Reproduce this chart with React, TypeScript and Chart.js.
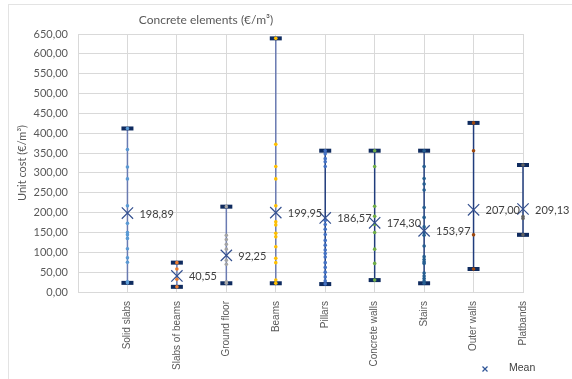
import React, { useEffect, useRef } from "react";
import { Chart, registerables } from "chart.js";

Chart.register(...registerables);

const title = "Concrete elements (€/m³)";
const yAxisTitle = "Unit cost (€/m³)";
const legendLabel = "Mean";

const categories = [
  "Solid slabs",
  "Slabs of beams",
  "Ground floor",
  "Beams",
  "Pillars",
  "Concrete walls",
  "Stairs",
  "Outer walls",
  "Platbands",
];

const minValues = [23, 13, 22, 22, 20, 30, 22, 58, 144];
const maxValues = [412, 74, 215, 639, 356, 356, 356, 426, 320];
const meanValues = [198.89, 40.55, 92.25, 199.95, 186.57, 174.3, 153.97, 207.0, 209.13];

const solidSlabs = [412, 359, 315, 285, 217, 173, 150, 144, 135, 109, 86, 75, 26, 23];
const slabsOfBeams = [74, 58, 32, 13];
const groundFloor = [215, 143, 132, 120, 108, 80, 70, 26, 22];
const beams = [639, 372, 316, 285, 217, 177, 169, 148, 139, 114, 85, 74, 30, 22];
const pillars = [356, 348, 336, 328, 316, 180, 170, 158, 145, 130, 118, 106, 97, 88, 74, 62, 50, 38, 28, 20];
const concreteWalls = [356, 316, 216, 191, 170, 150, 108, 72, 30];
const stairs = [356, 316, 286, 272, 257, 213, 188, 164, 150, 143, 116, 89, 82, 76, 72, 48, 40, 34, 28, 22];
const outerWalls = [426, 356, 144, 58];
const platbands = [320, 190, 185, 144];

const pointSeries = [solidSlabs, slabsOfBeams, groundFloor, beams, pillars, concreteWalls, stairs, outerWalls, platbands];
const pointColors = ["#5B9BD5", "#ED7D31", "#A5A5A5", "#FFC000", "#4472C4", "#70AD47", "#255E91", "#9E480E", "#636363"];
const whiskerColors = ["#6A7BB2", "#6A7BB2", "#6A7BB2", "#6A7BB2", "#203C7C", "#203C7C", "#203C7C", "#203C7C", "#203C7C"];

const yTickMin = 0;
const yTickMax = 650;
const yTickStep = 50;

const fmt = (v: number) => v.toFixed(2).replace(".", ",");

export default function App() {
  const canvasRef = useRef<HTMLCanvasElement | null>(null);

  useEffect(() => {
    const canvas = canvasRef.current;
    if (!canvas) return;

    const datasets: any[] = [];

    categories.forEach((_, i) => {
      datasets.push({
        label: "range-" + i,
        data: [
          { x: i + 1, y: minValues[i] },
          { x: i + 1, y: maxValues[i] },
        ],
        showLine: true,
        borderColor: whiskerColors[i],
        borderWidth: 1.5,
        pointRadius: 0,
        clip: false,
        order: 4,
      });
    });

    datasets.push({
      label: "caps",
      data: categories.flatMap((_, i) => [
        { x: i + 1, y: minValues[i] },
        { x: i + 1, y: maxValues[i] },
      ]),
      pointStyle: "line",
      pointRadius: 6,
      pointBorderWidth: 4,
      borderColor: "#0F2B5F",
      backgroundColor: "#0F2B5F",
      showLine: false,
      clip: false,
      order: 3,
    });

    pointSeries.forEach((arr, i) => {
      datasets.push({
        label: "points-" + i,
        data: arr.map((v) => ({ x: i + 1, y: v })),
        pointStyle: "circle",
        pointRadius: 1.8,
        pointBorderWidth: 0,
        backgroundColor: pointColors[i],
        borderColor: pointColors[i],
        showLine: false,
        clip: false,
        order: 2,
      });
    });

    datasets.push({
      label: legendLabel,
      data: meanValues.map((v, i) => ({ x: i + 1, y: v })),
      pointStyle: "crossRot",
      pointRadius: 8,
      pointBorderWidth: 1.2,
      borderColor: "#34508F",
      backgroundColor: "#34508F",
      showLine: false,
      clip: false,
      order: 1,
    });

    const meanIndex = datasets.length - 1;

    const overlayPlugin = {
      id: "overlay",
      afterDatasetsDraw(chart: any) {
        const ctx = chart.ctx;
        ctx.save();
        const meta = chart.getDatasetMeta(meanIndex);
        ctx.font = "11px Lato";
        ctx.fillStyle = "#404040";
        ctx.textAlign = "left";
        ctx.textBaseline = "middle";
        meta.data.forEach((pt: any, i: number) => {
          ctx.fillText(fmt(meanValues[i]), pt.x + 12, pt.y + 1);
        });
        ctx.restore();
      },
      afterDraw(chart: any) {
        const ctx = chart.ctx;
        ctx.save();
        ctx.font = "12px Lato";
        ctx.fillStyle = "#595959";
        ctx.textAlign = "center";
        ctx.textBaseline = "middle";
        ctx.fillText(title, 206, 20);
        ctx.strokeStyle = "#2F5597";
        ctx.lineWidth = 1.2;
        ctx.beginPath();
        ctx.moveTo(482.5, 366.5);
        ctx.lineTo(487.5, 371.5);
        ctx.moveTo(487.5, 366.5);
        ctx.lineTo(482.5, 371.5);
        ctx.stroke();
        ctx.font = "10.5px 'Liberation Sans', Arial";
        ctx.fillStyle = "#404040";
        ctx.textAlign = "left";
        ctx.fillText(legendLabel, 509, 368);
        ctx.restore();
      },
    };

    const chart = new Chart(canvas, {
      type: "scatter",
      data: { datasets },
      options: {
        animation: false,
        responsive: false,
        events: [],
        layout: { padding: { top: 34, right: 49, left: 0, bottom: 0 } },
        plugins: {
          legend: { display: false },
          tooltip: { enabled: false },
          title: { display: false },
        },
        scales: {
          x: {
            type: "linear",
            min: 0,
            max: categories.length,
            afterFit(scale: any) {
              scale.height = 87;
            },
            grid: { color: "#D9D9D9", drawTicks: false, lineWidth: 1 },
            border: { color: "#D9D9D9" },
            ticks: {
              stepSize: 1,
              autoSkip: false,
              maxRotation: 90,
              minRotation: 90,
              padding: 9,
              color: "#595959",
              font: { family: "'Liberation Sans', Arial", size: 10 },
              callback: (v: any) => categories[Number(v) - 1] ?? "",
            },
          },
          y: {
            type: "linear",
            min: yTickMin,
            max: yTickMax,
            afterFit(scale: any) {
              scale.width = 78;
            },
            grid: { color: "#D9D9D9", drawTicks: false, lineWidth: 1 },
            border: { color: "#D9D9D9" },
            ticks: {
              stepSize: yTickStep,
              padding: 10,
              color: "#595959",
              font: { family: "Lato", size: 11 },
              callback: (v: any) => fmt(Number(v)),
            },
            title: {
              display: true,
              text: yAxisTitle,
              color: "#595959",
              font: { family: "Lato", size: 11 },
              padding: { top: 16, bottom: 0 },
            },
          },
        },
      },
      plugins: [overlayPlugin],
    });

    return () => chart.destroy();
  }, []);

  return (
    <div
      style={{
        position: "fixed",
        left: 0,
        top: 0,
        width: 572,
        height: 379,
        overflow: "hidden",
        background: "#fff",
      }}
    >
      <canvas ref={canvasRef} width={572} height={379} style={{ position: "absolute", left: 0, top: 0 }} />
      <div
        style={{
          position: "absolute",
          left: 8,
          top: 4,
          width: 570,
          height: 420,
          border: "1.5px solid #E3E3E3",
          pointerEvents: "none",
          boxSizing: "border-box",
        }}
      />
    </div>
  );
}
